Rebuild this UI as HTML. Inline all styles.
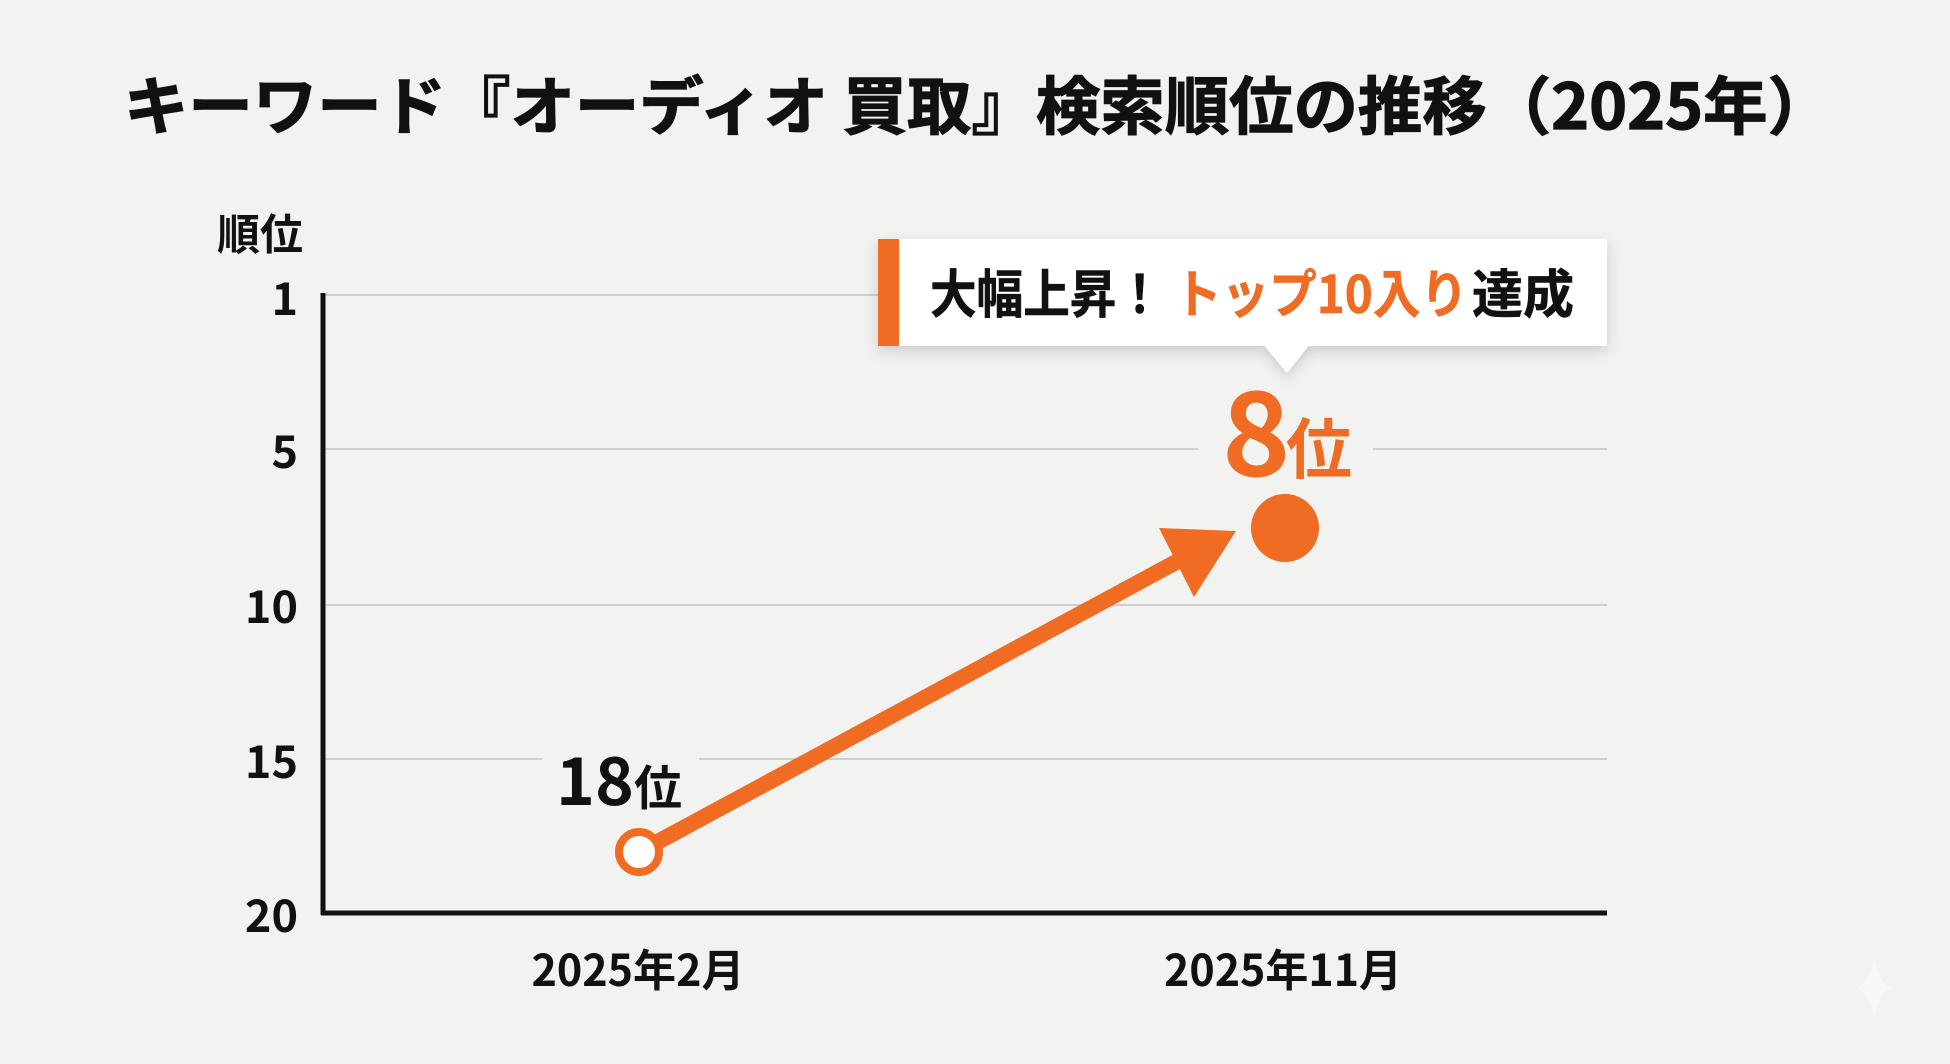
<!DOCTYPE html>
<html>
<head>
<meta charset="utf-8">
<style>
  html, body { margin:0; padding:0; background:#f2f2f1; }
  body { width:1950px; height:1064px; overflow:hidden; }
  svg { display:block; }
  text { font-family: "Liberation Sans", "Noto Sans CJK JP", sans-serif; font-weight:700; }
  .cjk { font-family: "Noto Sans CJK JP", "Liberation Sans", sans-serif; }
</style>
</head>
<body>
<svg width="1950" height="1064" viewBox="0 0 1950 1064" xmlns="http://www.w3.org/2000/svg">
  <defs>
    <filter id="sh" x="-10%" y="-30%" width="120%" height="180%">
      <feDropShadow dx="0" dy="5" stdDeviation="7" flood-color="#000" flood-opacity="0.16"/>
    </filter>
  </defs>
  <rect x="0" y="0" width="1950" height="1064" fill="#f2f2f1"/>

  <!-- Title -->
  <text class="cjk" x="124" y="129" font-size="63" font-weight="900" fill="#111" stroke="#111" stroke-width="1.2" textLength="1708" lengthAdjust="spacingAndGlyphs">キーワード『オーディオ 買取』検索順位の推移（2025年）</text>

  <!-- Y axis title -->
  <text class="cjk" x="217" y="250" font-size="43" fill="#111">順位</text>

  <!-- gridlines -->
  <g stroke="#cfcfcf" stroke-width="2">
    <line x1="323" y1="295" x2="1607" y2="295"/>
    <line x1="323" y1="449" x2="1607" y2="449"/>
    <line x1="323" y1="605" x2="1607" y2="605"/>
    <line x1="323" y1="759" x2="1607" y2="759"/>
  </g>

  <!-- gaps behind labels -->
  <rect x="1198" y="440" width="175" height="20" fill="#f2f2f1"/>
  <rect x="542" y="750" width="157" height="20" fill="#f2f2f1"/>

  <!-- axes -->
  <line x1="323" y1="293" x2="323" y2="915" stroke="#111" stroke-width="5"/>
  <line x1="321" y1="913" x2="1607" y2="913" stroke="#111" stroke-width="5"/>

  <!-- y tick labels -->
  <g font-size="45" fill="#111" text-anchor="end">
    <text class="cjk" x="298" y="315">1</text>
    <text class="cjk" x="298" y="468">5</text>
    <text class="cjk" x="298" y="623">10</text>
    <text class="cjk" x="298" y="778">15</text>
    <text class="cjk" x="298" y="932">20</text>
  </g>

  <!-- x tick labels -->
  <text class="cjk" x="638" y="986" font-size="44" fill="#111" text-anchor="middle" textLength="213" lengthAdjust="spacingAndGlyphs">2025年2月</text>
  <text class="cjk" x="1283" y="986" font-size="44" fill="#111" text-anchor="middle" textLength="238" lengthAdjust="spacingAndGlyphs">2025年11月</text>

  <!-- arrow -->
  <line x1="639" y1="852" x2="1180" y2="560" stroke="#ef6c22" stroke-width="16"/>
  <polygon points="1159,528 1236,531 1194,597" fill="#ef6c22"/>

  <!-- start point -->
  <circle cx="639" cy="852" r="20" fill="#ffffff" stroke="#ef6c22" stroke-width="8"/>

  <!-- end point -->
  <circle cx="1285" cy="528" r="34" fill="#ef6c22"/>

  <!-- 18位 -->
  <text class="cjk" x="556" y="805" font-size="66" fill="#111">18</text>
  <text class="cjk" x="634" y="805" font-size="48" fill="#111">位</text>

  <!-- 8位 -->
  <text class="cjk" x="1222" y="476" font-size="116" fill="#ef6c22">8</text>
  <text class="cjk" x="1286" y="473" font-size="66" fill="#ef6c22">位</text>

  <!-- callout -->
  <g filter="url(#sh)">
    <rect x="878" y="239" width="729" height="107" fill="#ffffff"/>
    <polygon points="1263,344 1310,344 1287,373" fill="#ffffff"/>
  </g>
  <rect x="878" y="239" width="21" height="107" fill="#ef6c22"/>
  <text class="cjk" x="930" y="313" font-size="52" fill="#111" stroke="#111" stroke-width="0.6" textLength="233" lengthAdjust="spacingAndGlyphs">大幅上昇！</text>
  <text class="cjk" x="1174" y="313" font-size="52" fill="#ef6c22" stroke="#ef6c22" stroke-width="0.6" textLength="294" lengthAdjust="spacingAndGlyphs">トップ10入り</text>
  <text class="cjk" x="1472" y="313" font-size="52" fill="#111" stroke="#111" stroke-width="0.6" textLength="102" lengthAdjust="spacingAndGlyphs">達成</text>

  <!-- sparkle -->
  <path d="M1874,955 Q1878,984 1892,988 Q1878,992 1874,1021 Q1870,992 1856,988 Q1870,984 1874,955 Z" fill="#f7f7f6"/>
</svg>
</body>
</html>
